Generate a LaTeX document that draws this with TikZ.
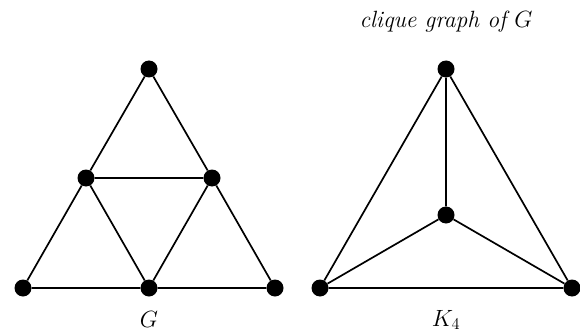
\RequirePackage{fix-cm}
\documentclass[tikz,border=0pt]{standalone}
\usepackage{tikz}
\usetikzlibrary{positioning}

\tikzset{
  vtx/.style={circle,fill=black,inner sep=0pt,minimum size=17pt},
  edge/.style={line width=1.7pt},
  lbl/.style={font=\fontsize{23.5}{28}\selectfont\itshape}
}

\begin{document}
\begin{tikzpicture}[x=1pt,y=-1pt]
  \useasboundingbox (0,0) rectangle (580,334);
  % graph G
  \node[vtx] (g1) at (149,69) {};
  \node[vtx] (g2) at (86,178) {};
  \node[vtx] (g3) at (212,178) {};
  \node[vtx] (g4) at (23,288) {};
  \node[vtx] (g5) at (149,288) {};
  \node[vtx] (g6) at (275,288) {};
  \draw[edge] (g1) -- (g2) -- (g4) -- (g5) -- (g6) -- (g3) -- (g1);
  \draw[edge] (g2) -- (g3) -- (g5) -- (g2);
  \node[lbl] (gname) at (149,319) {$G$};
  % clique graph K4
  \node[vtx] (k1) at (446,69) {};
  \node[vtx] (k2) at (446,215) {};
  \node[vtx] (k3) at (320,288) {};
  \node[vtx] (k4) at (572,288) {};
  \draw[edge] (k1) -- (k3) -- (k4) -- (k1) -- (k2);
  \draw[edge] (k3) -- (k2) -- (k4);
  \node[lbl] (kname) at (446,320) {$K_4$};
  \node[lbl] (title) at (446,22) {clique graph of $G$};
\end{tikzpicture}
\end{document}
